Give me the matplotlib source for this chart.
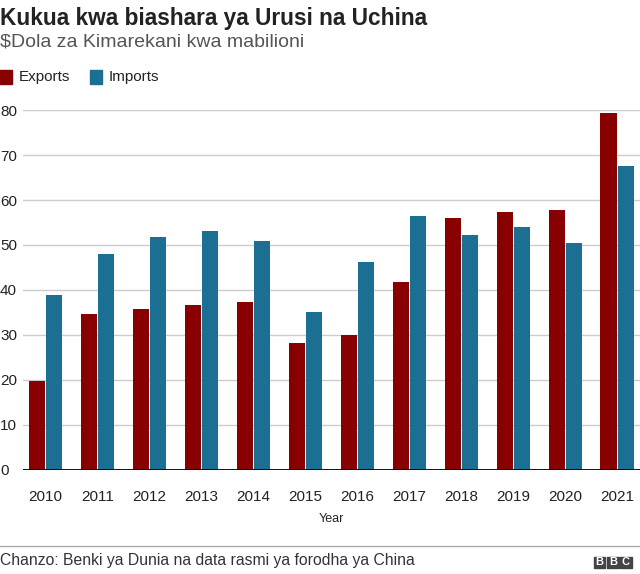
import matplotlib.pyplot as plt
import numpy as np
from matplotlib.patches import Rectangle

plt.rcParams['font.family'] = ['Liberation Sans', 'DejaVu Sans']

years = ['2010', '2011', '2012', '2013', '2014', '2015',
         '2016', '2017', '2018', '2019', '2020', '2021']
exports = [19.7, 34.6, 35.8, 36.7, 37.3, 28.2, 29.9, 41.7, 56.0, 57.3, 57.7, 79.3]
imports = [38.9, 48.0, 51.8, 53.1, 50.8, 35.1, 46.2, 56.4, 52.2, 54.0, 50.4, 67.6]
yticks = [0, 10, 20, 30, 40, 50, 60, 70, 80]

red = '#880000'
blue = '#1a6f93'

fig = plt.figure(figsize=(6.4, 5.74), dpi=100)
ax = fig.add_axes([0.036, 0.182, 0.964, 0.626])

x = np.arange(len(years))
w = 0.31
ax.bar(x - w / 2 - 0.01, exports, w, color=red, zorder=3)
ax.bar(x + w / 2 + 0.01, imports, w, color=blue, zorder=3)

ax.set_xlim(-0.43, len(years) - 0.56)
ax.set_ylim(0, 80)
ax.set_yticks(yticks)
ax.set_xticks(x)
ax.set_xticklabels(years, fontsize=11)
ax.grid(axis='y', color='#cccccc', linewidth=1, zorder=0)
ax.axhline(0, color='black', linewidth=2, zorder=4)
for s in ax.spines.values():
    s.set_visible(False)
ax.tick_params(axis='both', length=0, labelsize=11, colors='#222222')
ax.tick_params(axis='x', pad=15)
ax.tick_params(axis='y', pad=0)
for lab in ax.get_yticklabels():
    lab.set_horizontalalignment('left')
    lab.set_x(-0.036 / 0.964)
ax.set_xlabel('Year', fontsize=9, color='#222222', labelpad=6)

fig.text(0.0, 0.988, 'Kukua kwa biashara ya Urusi na Uchina', fontsize=16.3,
         fontweight='bold', color='#222222', va='top')
fig.text(0.0, 0.942, '$Dola za Kimarekani kwa mabilioni', fontsize=14,
         color='#555555', va='top')

# legend
fig.patches.append(Rectangle((0.0, 0.854), 0.019, 0.024, color=red,
                             transform=fig.transFigure, figure=fig))
fig.text(0.03, 0.865, 'Exports', fontsize=11, color='#222222', va='center')
fig.patches.append(Rectangle((0.14, 0.854), 0.019, 0.024, color=blue,
                             transform=fig.transFigure, figure=fig))
fig.text(0.17, 0.865, 'Imports', fontsize=11, color='#222222', va='center')

# footer
fig.add_artist(plt.Line2D([0, 1], [0.049, 0.049], color='#aaaaaa',
                          linewidth=1, transform=fig.transFigure))
fig.text(0.0, 0.024, 'Chanzo: Benki ya Dunia na data rasmi ya forodha ya China',
         fontsize=11.3, color='#333333', va='center')
for i, letter in enumerate('BBC'):
    x0 = 0.928 + i * 0.0205
    fig.patches.append(Rectangle((x0, 0.0105), 0.018, 0.0195, color='#444444',
                                 transform=fig.transFigure, figure=fig))
    fig.text(x0 + 0.009, 0.0205, letter, fontsize=8, fontweight='bold',
             color='white', ha='center', va='center')

fig.savefig('out.png', dpi=100)
